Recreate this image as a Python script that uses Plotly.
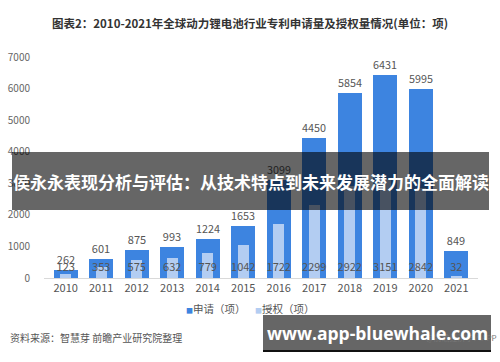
import plotly.graph_objects as go

years = ["2010", "2011", "2012", "2013", "2014", "2015", "2016", "2017", "2018", "2019", "2020", "2021"]
applied = [262, 601, 875, 993, 1224, 1653, 3099, 4450, 5854, 6431, 5995, 849]
granted = [123, 353, 575, 632, 779, 1042, 1722, 2299, 2922, 3151, 2842, 32]
y_ticks = [0, 1000, 2000, 3000, 4000, 5000, 6000, 7000]
series_names = ["申请（项）", "授权（项）"]

FONT = "Noto Sans CJK SC"
W, H = 500, 362
L, R, T, B = 44, 22, 57, 84
PW, PH = W - L - R, H - T - B
DARK, LIGHT = "#3d84e0", "#b3cdf2"


def px(x):
    return (x - L) / PW


def py(y):
    return (H - B - y) / PH


fig = go.Figure()
fig.add_trace(go.Bar(
    x=years, y=applied, name=series_names[0], width=0.67, showlegend=False,
    marker=dict(color=DARK, line=dict(width=0)),
    text=applied, textposition="outside", cliponaxis=False,
    textfont=dict(size=11, color="#555555", family=FONT),
))
fig.add_trace(go.Bar(
    x=years, y=granted, name=series_names[1], width=0.3, showlegend=False,
    marker=dict(color=LIGHT, line=dict(width=0)),
))
fig.add_trace(go.Scatter(
    x=years, y=[300] * len(years), mode="text", text=[str(v) for v in granted],
    textfont=dict(size=11, color="#555555", family=FONT), showlegend=False,
    hoverinfo="skip", cliponaxis=False,
))

legend_text = (f"<span style='color:{DARK};font-size:7px'>■</span>{series_names[0]}"
               f"&nbsp;&nbsp;&nbsp;&nbsp;<span style='color:{LIGHT};font-size:7px'>■</span>{series_names[1]}")

shapes = [
    dict(type="rect", xref="paper", yref="paper", x0=px(12), x1=px(489), y0=py(210), y1=py(152),
         fillcolor="rgba(0,0,0,0.6)", line=dict(width=0), layer="above"),
    dict(type="rect", xref="paper", yref="paper", x0=px(263), x1=px(491), y0=py(350), y1=py(315),
         fillcolor="rgba(0,0,0,0.6)", line=dict(width=0), layer="above"),
    dict(type="rect", xref="paper", yref="paper", x0=px(263), x1=px(491), y0=py(352), y1=py(350),
         fillcolor="#111111", line=dict(width=0), layer="above"),
]

annotations = [
    dict(text="<b>图表2：2010-2021年全球动力锂电池行业专利申请量及授权量情况(单位：项)</b>",
         xref="paper", yref="paper", x=px(250), y=py(23), showarrow=False,
         font=dict(size=11.5, color="#333333", family=FONT), xanchor="center", yanchor="middle"),
    dict(text=legend_text, xref="paper", yref="paper", x=px(250), y=py(308), showarrow=False,
         xanchor="center", yanchor="middle", font=dict(size=10.5, color="#555555", family=FONT)),
    dict(text="资料来源：智慧芽 前瞻产业研究院整理", xref="paper", yref="paper",
         x=px(8), y=py(337), showarrow=False, xanchor="left", yanchor="middle",
         font=dict(size=10, color="#555555", family=FONT)),
    dict(text="@前瞻经济学人APP", xref="paper", yref="paper",
         x=px(499), y=py(337), showarrow=False, xanchor="right", yanchor="middle",
         font=dict(size=8, color="#777777", family=FONT)),
    dict(text="<b>侯永永表现分析与评估：从技术特点到未来发展潜力的全面解读</b>", xref="paper", yref="paper",
         x=px(251), y=py(181), showarrow=False, xanchor="center", yanchor="middle",
         font=dict(size=17, color="white", family=FONT)),
    dict(text="<b>www.app-bluewhale.com</b>", xref="paper", yref="paper",
         x=px(377), y=py(333), showarrow=False, xanchor="center", yanchor="middle",
         font=dict(size=17.5, color="white", family="Open Sans")),
]

fig.update_layout(
    width=W, height=H, margin=dict(l=L, r=R, t=T, b=B, autoexpand=False),
    paper_bgcolor="white", plot_bgcolor="white",
    barmode="overlay", bargap=0,
    showlegend=False,
    xaxis=dict(type="category", showgrid=False, showline=True, linecolor="#d9d9d9",
               ticks="", tickfont=dict(size=11, color="#555555", family=FONT), fixedrange=True),
    yaxis=dict(range=[0, 7000], tickvals=y_ticks, showgrid=False, zeroline=False, showline=False,
               ticks="outside", ticklen=11, tickcolor="white",
               tickfont=dict(size=10, color="#666666", family=FONT)),
    shapes=shapes, annotations=annotations,
)

fig.write_html("out.html", config={"displayModeBar": False},
               post_script="document.body.style.margin='0';document.body.style.overflow='hidden';")
